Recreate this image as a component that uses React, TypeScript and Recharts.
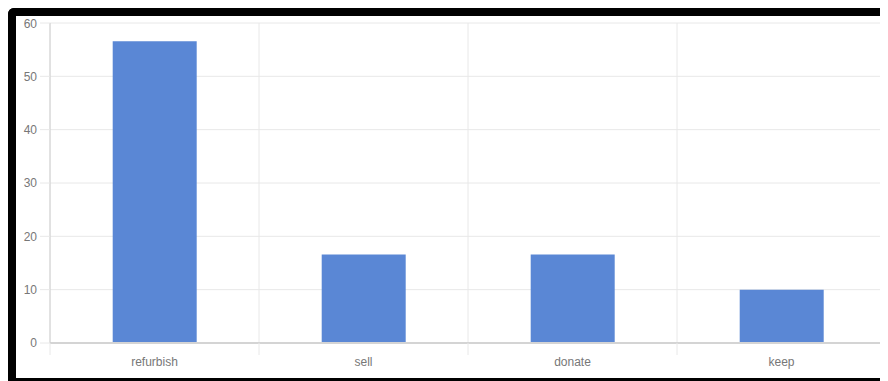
import React from "react";
import { BarChart, Bar, XAxis, YAxis, CartesianGrid } from "recharts";

const categories = ["refurbish", "sell", "donate", "keep"];
const counts = [56.6, 16.6, 16.6, 10];
const yTicks = [0, 10, 20, 30, 40, 50, 60];

const data = categories.map((name, i) => ({ name, value: counts[i] }));

const CHART_W = 872;
const CHART_H = 362;
const YAXIS_W = 34;
const MARGIN = { top: 7, right: 2, left: 0, bottom: 0 };
const BAND = (CHART_W - YAXIS_W - MARGIN.right) / categories.length;

const GRID = "#e8e8e8";
const TEXT = "#777";
const FONT = "'Liberation Sans', Arial, sans-serif";

// category label plus the offset tick marks that sit on the band edges
function XTick(props: any) {
    const { x, y, payload, index } = props;
    const axisY = y - 14;
    const left = x - BAND / 2;
    const right = x + BAND / 2;
    return (
        <g>
            <line x1={left} x2={left} y1={axisY} y2={axisY + 12} stroke={GRID} />
            {index === categories.length - 1 && (
                <line x1={right} x2={right} y1={axisY} y2={axisY + 12} stroke={GRID} />
            )}
            <text x={x} y={y} dy="0.71em" textAnchor="middle" fill={TEXT} fontSize={12} fontFamily={FONT}>
                {payload.value}
            </text>
        </g>
    );
}

export default function App() {
    return (
        <div
            style={{
                width: CHART_W,
                height: CHART_H,
                borderTop: "8px solid #000",
                borderLeft: "8px solid #000",
                borderBottom: "3px solid #000",
                borderTopLeftRadius: 6,
                background: "#fff",
                overflow: "hidden",
            }}
        >
            <BarChart width={CHART_W} height={CHART_H} data={data} margin={MARGIN} barCategoryGap="30%">
                <CartesianGrid
                    stroke={GRID}
                    verticalCoordinatesGenerator={({ offset }: any) =>
                        [...categories, ""].map((_, i) => offset.left + (offset.width * i) / categories.length)
                    }
                />
                <XAxis
                    dataKey="name"
                    height={35}
                    tickLine={false}
                    tickSize={10}
                    tickMargin={4}
                    axisLine={{ stroke: "#d4d4d4", strokeWidth: 2 }}
                    tick={<XTick />}
                    interval={0}
                />
                <YAxis
                    width={YAXIS_W}
                    domain={[0, 60]}
                    ticks={yTicks}
                    tickSize={10}
                    tickMargin={3}
                    tickLine={{ stroke: GRID }}
                    axisLine={{ stroke: "#d0d0d0" }}
                    tick={{ fill: TEXT, fontSize: 12, fontFamily: FONT }}
                />
                <Bar dataKey="value" fill="#5a87d5" isAnimationActive={false} />
            </BarChart>
        </div>
    );
}
